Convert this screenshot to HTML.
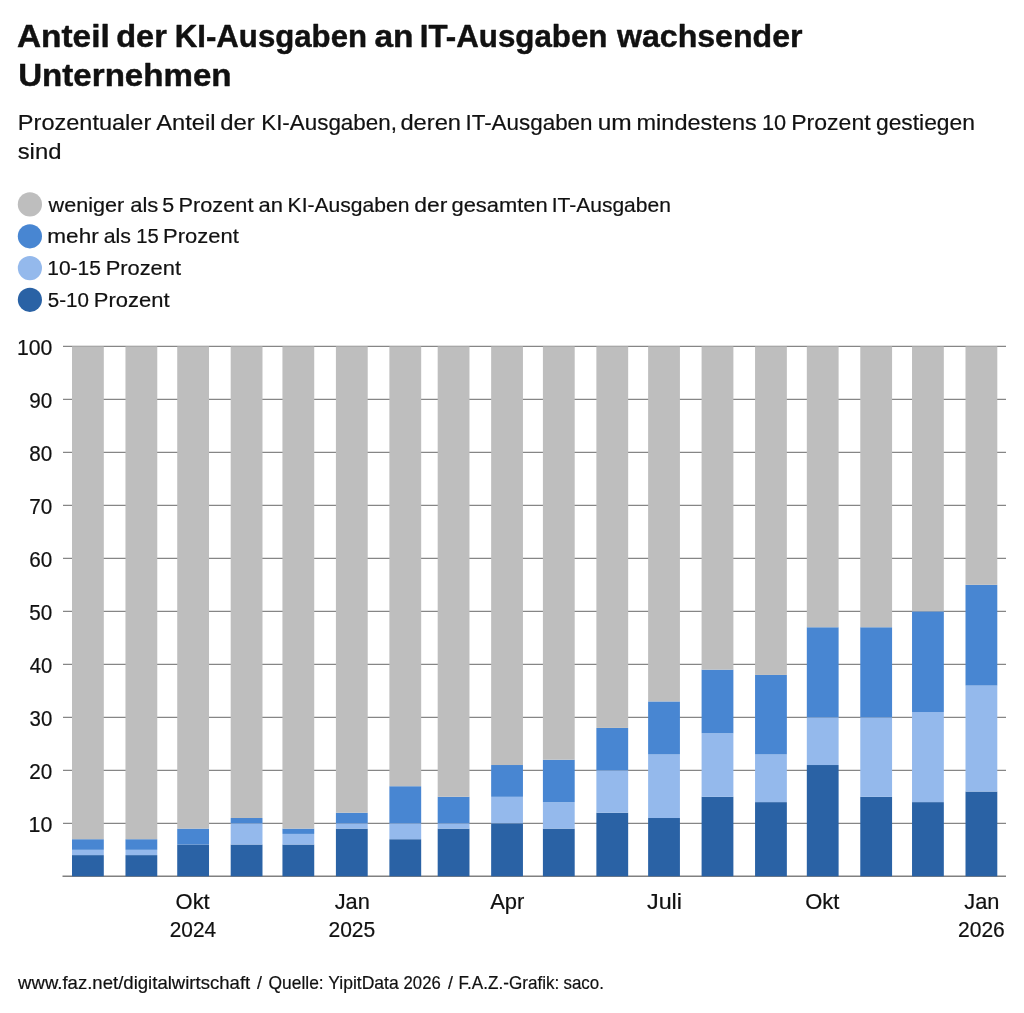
<!DOCTYPE html>
<html lang="de"><head><meta charset="utf-8"><title>Anteil der KI-Ausgaben an IT-Ausgaben wachsender Unternehmen</title>
<style>html,body{margin:0;padding:0;background:#fff;}body{width:1024px;height:1013px;overflow:hidden;}svg{display:block;will-change:transform;font-family:"Liberation Sans", sans-serif;fill:#111111;}text{stroke:#111111;stroke-width:0.2px;stroke-linejoin:round;}.b{font-weight:bold;stroke:#111111;stroke-width:0.45px;stroke-linejoin:round;}</style></head><body>
<svg width="1024" height="1013" viewBox="0 0 1024 1013">
<rect x="0" y="0" width="1024" height="1013" fill="#ffffff"/>
<circle cx="29.9" cy="204.4" r="12.1" fill="#bebebe"/>
<circle cx="29.9" cy="236.3" r="12.1" fill="#4886d2"/>
<circle cx="29.9" cy="268.1" r="12.1" fill="#94b9ec"/>
<circle cx="29.9" cy="299.8" r="12.1" fill="#2a62a5"/>
<g stroke="#868686" stroke-width="1.2">
<line x1="63" x2="1006" y1="823.31" y2="823.31"/>
<line x1="63" x2="1006" y1="770.32" y2="770.32"/>
<line x1="63" x2="1006" y1="717.33" y2="717.33"/>
<line x1="63" x2="1006" y1="664.34" y2="664.34"/>
<line x1="63" x2="1006" y1="611.35" y2="611.35"/>
<line x1="63" x2="1006" y1="558.36" y2="558.36"/>
<line x1="63" x2="1006" y1="505.37" y2="505.37"/>
<line x1="63" x2="1006" y1="452.38" y2="452.38"/>
<line x1="63" x2="1006" y1="399.39" y2="399.39"/>
<line x1="63" x2="1006" y1="346.40" y2="346.40"/>
</g>
<line x1="62.5" x2="1006" y1="876.30" y2="876.30" stroke="#808080" stroke-width="1.5"/>
<rect x="72.00" y="855.10" width="31.8" height="21.20" fill="#2a62a5"/>
<rect x="72.00" y="849.80" width="31.8" height="5.30" fill="#94b9ec"/>
<rect x="72.00" y="839.21" width="31.8" height="10.60" fill="#4886d2"/>
<rect x="72.00" y="346.40" width="31.8" height="492.81" fill="#bebebe"/>
<rect x="125.47" y="855.10" width="31.8" height="21.20" fill="#2a62a5"/>
<rect x="125.47" y="849.80" width="31.8" height="5.30" fill="#94b9ec"/>
<rect x="125.47" y="839.21" width="31.8" height="10.60" fill="#4886d2"/>
<rect x="125.47" y="346.40" width="31.8" height="492.81" fill="#bebebe"/>
<rect x="177.22" y="844.51" width="31.8" height="31.79" fill="#2a62a5"/>
<rect x="177.22" y="828.61" width="31.8" height="15.90" fill="#4886d2"/>
<rect x="177.22" y="346.40" width="31.8" height="482.21" fill="#bebebe"/>
<rect x="230.69" y="844.51" width="31.8" height="31.79" fill="#2a62a5"/>
<rect x="230.69" y="823.31" width="31.8" height="21.20" fill="#94b9ec"/>
<rect x="230.69" y="818.01" width="31.8" height="5.30" fill="#4886d2"/>
<rect x="230.69" y="346.40" width="31.8" height="471.61" fill="#bebebe"/>
<rect x="282.44" y="844.51" width="31.8" height="31.79" fill="#2a62a5"/>
<rect x="282.44" y="833.91" width="31.8" height="10.60" fill="#94b9ec"/>
<rect x="282.44" y="828.61" width="31.8" height="5.30" fill="#4886d2"/>
<rect x="282.44" y="346.40" width="31.8" height="482.21" fill="#bebebe"/>
<rect x="335.91" y="828.61" width="31.8" height="47.69" fill="#2a62a5"/>
<rect x="335.91" y="823.31" width="31.8" height="5.30" fill="#94b9ec"/>
<rect x="335.91" y="812.71" width="31.8" height="10.60" fill="#4886d2"/>
<rect x="335.91" y="346.40" width="31.8" height="466.31" fill="#bebebe"/>
<rect x="389.38" y="839.21" width="31.8" height="37.09" fill="#2a62a5"/>
<rect x="389.38" y="823.31" width="31.8" height="15.90" fill="#94b9ec"/>
<rect x="389.38" y="786.22" width="31.8" height="37.09" fill="#4886d2"/>
<rect x="389.38" y="346.40" width="31.8" height="439.82" fill="#bebebe"/>
<rect x="437.68" y="828.61" width="31.8" height="47.69" fill="#2a62a5"/>
<rect x="437.68" y="823.31" width="31.8" height="5.30" fill="#94b9ec"/>
<rect x="437.68" y="796.81" width="31.8" height="26.50" fill="#4886d2"/>
<rect x="437.68" y="346.40" width="31.8" height="450.41" fill="#bebebe"/>
<rect x="491.15" y="823.31" width="31.8" height="52.99" fill="#2a62a5"/>
<rect x="491.15" y="796.81" width="31.8" height="26.50" fill="#94b9ec"/>
<rect x="491.15" y="765.02" width="31.8" height="31.79" fill="#4886d2"/>
<rect x="491.15" y="346.40" width="31.8" height="418.62" fill="#bebebe"/>
<rect x="542.90" y="828.61" width="31.8" height="47.69" fill="#2a62a5"/>
<rect x="542.90" y="802.11" width="31.8" height="26.50" fill="#94b9ec"/>
<rect x="542.90" y="759.72" width="31.8" height="42.39" fill="#4886d2"/>
<rect x="542.90" y="346.40" width="31.8" height="413.32" fill="#bebebe"/>
<rect x="596.37" y="812.71" width="31.8" height="63.59" fill="#2a62a5"/>
<rect x="596.37" y="770.32" width="31.8" height="42.39" fill="#94b9ec"/>
<rect x="596.37" y="727.93" width="31.8" height="42.39" fill="#4886d2"/>
<rect x="596.37" y="346.40" width="31.8" height="381.53" fill="#bebebe"/>
<rect x="648.12" y="818.01" width="31.8" height="58.29" fill="#2a62a5"/>
<rect x="648.12" y="754.42" width="31.8" height="63.59" fill="#94b9ec"/>
<rect x="648.12" y="701.43" width="31.8" height="52.99" fill="#4886d2"/>
<rect x="648.12" y="346.40" width="31.8" height="355.03" fill="#bebebe"/>
<rect x="701.59" y="796.81" width="31.8" height="79.49" fill="#2a62a5"/>
<rect x="701.59" y="733.23" width="31.8" height="63.59" fill="#94b9ec"/>
<rect x="701.59" y="669.64" width="31.8" height="63.59" fill="#4886d2"/>
<rect x="701.59" y="346.40" width="31.8" height="323.24" fill="#bebebe"/>
<rect x="755.06" y="802.11" width="31.8" height="74.19" fill="#2a62a5"/>
<rect x="755.06" y="754.42" width="31.8" height="47.69" fill="#94b9ec"/>
<rect x="755.06" y="674.94" width="31.8" height="79.49" fill="#4886d2"/>
<rect x="755.06" y="346.40" width="31.8" height="328.54" fill="#bebebe"/>
<rect x="806.81" y="765.02" width="31.8" height="111.28" fill="#2a62a5"/>
<rect x="806.81" y="717.33" width="31.8" height="47.69" fill="#94b9ec"/>
<rect x="806.81" y="627.25" width="31.8" height="90.08" fill="#4886d2"/>
<rect x="806.81" y="346.40" width="31.8" height="280.85" fill="#bebebe"/>
<rect x="860.28" y="796.81" width="31.8" height="79.49" fill="#2a62a5"/>
<rect x="860.28" y="717.33" width="31.8" height="79.49" fill="#94b9ec"/>
<rect x="860.28" y="627.25" width="31.8" height="90.08" fill="#4886d2"/>
<rect x="860.28" y="346.40" width="31.8" height="280.85" fill="#bebebe"/>
<rect x="912.03" y="802.11" width="31.8" height="74.19" fill="#2a62a5"/>
<rect x="912.03" y="712.03" width="31.8" height="90.08" fill="#94b9ec"/>
<rect x="912.03" y="611.35" width="31.8" height="100.68" fill="#4886d2"/>
<rect x="912.03" y="346.40" width="31.8" height="264.95" fill="#bebebe"/>
<rect x="965.50" y="791.52" width="31.8" height="84.78" fill="#2a62a5"/>
<rect x="965.50" y="685.54" width="31.8" height="105.98" fill="#94b9ec"/>
<rect x="965.50" y="584.86" width="31.8" height="100.68" fill="#4886d2"/>
<rect x="965.50" y="346.40" width="31.8" height="238.46" fill="#bebebe"/>
<text x="16.97" y="47.20" font-size="32" class="b" textLength="92.78" lengthAdjust="spacingAndGlyphs">Anteil</text>
<text x="116.23" y="47.20" font-size="32" class="b" textLength="50.57" lengthAdjust="spacingAndGlyphs">der</text>
<text x="174.81" y="47.20" font-size="32" class="b" textLength="192.23" lengthAdjust="spacingAndGlyphs">KI-Ausgaben</text>
<text x="374.46" y="47.20" font-size="32" class="b" textLength="38.98" lengthAdjust="spacingAndGlyphs">an</text>
<text x="419.80" y="47.20" font-size="32" class="b" textLength="187.67" lengthAdjust="spacingAndGlyphs">IT-Ausgaben</text>
<text x="617.00" y="47.20" font-size="32" class="b" textLength="185.47" lengthAdjust="spacingAndGlyphs">wachsender</text>
<text x="18.18" y="86.25" font-size="32" class="b" textLength="213.39" lengthAdjust="spacingAndGlyphs">Unternehmen</text>
<text x="17.88" y="130.00" font-size="22" textLength="133.39" lengthAdjust="spacingAndGlyphs">Prozentualer</text>
<text x="156.25" y="130.00" font-size="22" textLength="59.16" lengthAdjust="spacingAndGlyphs">Anteil</text>
<text x="220.16" y="130.00" font-size="22" textLength="34.56" lengthAdjust="spacingAndGlyphs">der</text>
<text x="261.22" y="130.00" font-size="22" textLength="135.63" lengthAdjust="spacingAndGlyphs">KI-Ausgaben,</text>
<text x="400.42" y="130.00" font-size="22" textLength="60.63" lengthAdjust="spacingAndGlyphs">deren</text>
<text x="465.46" y="130.00" font-size="22" textLength="127.06" lengthAdjust="spacingAndGlyphs">IT-Ausgaben</text>
<text x="597.73" y="130.00" font-size="22" textLength="34.01" lengthAdjust="spacingAndGlyphs">um</text>
<text x="636.50" y="130.00" font-size="22" textLength="120.22" lengthAdjust="spacingAndGlyphs">mindestens</text>
<text x="762.02" y="130.00" font-size="22" textLength="24.20" lengthAdjust="spacingAndGlyphs">10</text>
<text x="791.27" y="130.00" font-size="22" textLength="79.31" lengthAdjust="spacingAndGlyphs">Prozent</text>
<text x="875.96" y="130.00" font-size="22" textLength="99.01" lengthAdjust="spacingAndGlyphs">gestiegen</text>
<text x="17.69" y="158.75" font-size="22" textLength="43.79" lengthAdjust="spacingAndGlyphs">sind</text>
<text x="48.60" y="211.70" font-size="20.7" textLength="75.67" lengthAdjust="spacingAndGlyphs">weniger</text>
<text x="130.24" y="211.70" font-size="20.7" textLength="28.11" lengthAdjust="spacingAndGlyphs">als</text>
<text x="162.36" y="211.70" font-size="20.7" textLength="11.93" lengthAdjust="spacingAndGlyphs">5</text>
<text x="178.46" y="211.70" font-size="20.7" textLength="74.99" lengthAdjust="spacingAndGlyphs">Prozent</text>
<text x="258.54" y="211.70" font-size="20.7" textLength="24.40" lengthAdjust="spacingAndGlyphs">an</text>
<text x="287.62" y="211.70" font-size="20.7" textLength="121.78" lengthAdjust="spacingAndGlyphs">KI-Ausgaben</text>
<text x="414.29" y="211.70" font-size="20.7" textLength="33.05" lengthAdjust="spacingAndGlyphs">der</text>
<text x="451.44" y="211.70" font-size="20.7" textLength="96.25" lengthAdjust="spacingAndGlyphs">gesamten</text>
<text x="551.72" y="211.70" font-size="20.7" textLength="119.11" lengthAdjust="spacingAndGlyphs">IT-Ausgaben</text>
<text x="47.37" y="243.20" font-size="20.7" textLength="51.31" lengthAdjust="spacingAndGlyphs">mehr</text>
<text x="103.77" y="243.20" font-size="20.7" textLength="27.25" lengthAdjust="spacingAndGlyphs">als</text>
<text x="136.23" y="243.20" font-size="20.7" textLength="22.52" lengthAdjust="spacingAndGlyphs">15</text>
<text x="163.14" y="243.20" font-size="20.7" textLength="75.66" lengthAdjust="spacingAndGlyphs">Prozent</text>
<text x="47.23" y="274.90" font-size="20.7" textLength="53.71" lengthAdjust="spacingAndGlyphs">10-15</text>
<text x="105.65" y="274.90" font-size="20.7" textLength="75.40" lengthAdjust="spacingAndGlyphs">Prozent</text>
<text x="47.76" y="306.50" font-size="20.7" textLength="41.14" lengthAdjust="spacingAndGlyphs">5-10</text>
<text x="93.89" y="306.50" font-size="20.7" textLength="75.66" lengthAdjust="spacingAndGlyphs">Prozent</text>
<text x="18.10" y="988.60" font-size="17.9" textLength="232.14" lengthAdjust="spacingAndGlyphs">www.faz.net/digitalwirtschaft</text>
<text x="257.00" y="988.60" font-size="17.9" textLength="4.98" lengthAdjust="spacingAndGlyphs">/</text>
<text x="268.52" y="988.60" font-size="17.9" textLength="55.12" lengthAdjust="spacingAndGlyphs">Quelle:</text>
<text x="328.26" y="988.60" font-size="17.9" textLength="70.43" lengthAdjust="spacingAndGlyphs">YipitData</text>
<text x="403.57" y="988.60" font-size="17.9" textLength="37.19" lengthAdjust="spacingAndGlyphs">2026</text>
<text x="448.00" y="988.60" font-size="17.9" textLength="4.98" lengthAdjust="spacingAndGlyphs">/</text>
<text x="458.57" y="988.60" font-size="17.9" textLength="100.79" lengthAdjust="spacingAndGlyphs">F.A.Z.-Grafik:</text>
<text x="563.53" y="988.60" font-size="17.9" textLength="40.40" lengthAdjust="spacingAndGlyphs">saco.</text>
<text x="28.57" y="832.01" font-size="21.6" textLength="23.81" lengthAdjust="spacingAndGlyphs">10</text>
<text x="29.34" y="779.02" font-size="21.6" textLength="23.01" lengthAdjust="spacingAndGlyphs">20</text>
<text x="29.59" y="726.03" font-size="21.6" textLength="22.75" lengthAdjust="spacingAndGlyphs">30</text>
<text x="29.83" y="673.04" font-size="21.6" textLength="22.50" lengthAdjust="spacingAndGlyphs">40</text>
<text x="29.34" y="620.05" font-size="21.6" textLength="23.01" lengthAdjust="spacingAndGlyphs">50</text>
<text x="29.34" y="567.06" font-size="21.6" textLength="23.01" lengthAdjust="spacingAndGlyphs">60</text>
<text x="29.34" y="514.07" font-size="21.6" textLength="23.01" lengthAdjust="spacingAndGlyphs">70</text>
<text x="29.34" y="461.08" font-size="21.6" textLength="23.01" lengthAdjust="spacingAndGlyphs">80</text>
<text x="29.34" y="408.09" font-size="21.6" textLength="23.01" lengthAdjust="spacingAndGlyphs">90</text>
<text x="16.98" y="355.10" font-size="21.6" textLength="35.39" lengthAdjust="spacingAndGlyphs">100</text>
<text x="175.60" y="908.60" font-size="21.6" textLength="34.11" lengthAdjust="spacingAndGlyphs">Okt</text>
<text x="169.76" y="936.80" font-size="21.6" textLength="46.29" lengthAdjust="spacingAndGlyphs">2024</text>
<text x="334.66" y="908.60" font-size="21.6" textLength="35.14" lengthAdjust="spacingAndGlyphs">Jan</text>
<text x="328.44" y="936.80" font-size="21.6" textLength="46.79" lengthAdjust="spacingAndGlyphs">2025</text>
<text x="490.15" y="908.60" font-size="21.6" textLength="34.17" lengthAdjust="spacingAndGlyphs">Apr</text>
<text x="647.03" y="908.60" font-size="21.6" textLength="34.96" lengthAdjust="spacingAndGlyphs">Juli</text>
<text x="805.19" y="908.60" font-size="21.6" textLength="34.11" lengthAdjust="spacingAndGlyphs">Okt</text>
<text x="964.25" y="908.60" font-size="21.6" textLength="35.14" lengthAdjust="spacingAndGlyphs">Jan</text>
<text x="958.03" y="936.80" font-size="21.6" textLength="46.79" lengthAdjust="spacingAndGlyphs">2026</text>
</svg></body></html>
